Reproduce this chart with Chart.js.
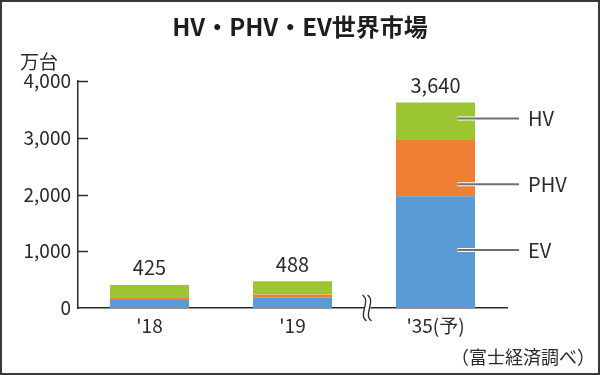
<!DOCTYPE html>
<html>
<head>
<meta charset="utf-8">
<script src="https://cdn.jsdelivr.net/npm/chart.js@4.4.0/dist/chart.umd.min.js"></script>
<style>
  html, body { margin: 0; padding: 0; background: #fff; }
  #wrap { position: relative; width: 600px; height: 375px; }
  #frame { position: absolute; left: 0; top: 0; width: 600px; height: 375px; box-sizing: border-box; border: 2px solid #3a3a3a; pointer-events: none; }
  canvas { display: block; }
</style>
</head>
<body>
<div id="wrap">
  <canvas id="chart" width="600" height="375"></canvas>
  <div id="frame"></div>
</div>
<script>
// Values (unit: 万台)
const years = ["'18", "'19", "'35(予)"];
const evValues = [140, 180, 1970];
const phvValues = [50, 60, 990];
const hvValues = [235, 248, 680];
const totals = [425, 488, 3640];
const seriesNames = ['HV', 'PHV', 'EV'];
// where the leader lines meet the 2035 bar (data units)
const labelAnchors = [3340, 2180, 1020];
const yTicks = [0, 1000, 2000, 3000, 4000];

const FONT = '"Noto Sans CJK JP", "Noto Sans", sans-serif';
const TEXT = '#2a2a2a';

// Extra drawing: title, unit, totals, leader labels, inward ticks, axis break, source
const decorations = {
    id: 'decorations',
    afterDatasetsDraw(chart) {
        const { ctx, chartArea, scales } = chart;
        const x = scales.x, y = scales.y;
        ctx.save();

        // title
        ctx.fillStyle = '#1e1e1e';
        ctx.font = 'bold 24px ' + FONT;
        ctx.textAlign = 'center';
        ctx.textBaseline = 'middle';
        ctx.fillText('HV・PHV・EV世界市場', 300, 27);

        // unit
        ctx.font = '19px ' + FONT;
        ctx.fillStyle = TEXT;
        ctx.textAlign = 'left';
        ctx.fillText('万台', 20, 62);

        // inward tick marks on the y axis
        ctx.strokeStyle = TEXT;
        ctx.lineWidth = 1.5;
        yTicks.forEach(v => {
            if (v === 0) return;
            const py = Math.round(y.getPixelForValue(v)) + 0.5;
            ctx.beginPath();
            ctx.moveTo(chartArea.left, py);
            ctx.lineTo(chartArea.left + 10, py);
            ctx.stroke();
        });

        // totals above bars
        const hvMeta = chart.getDatasetMeta(0);
        ctx.font = '20px ' + FONT;
        ctx.textAlign = 'center';
        ctx.textBaseline = 'middle';
        ctx.fillStyle = TEXT;
        totals.forEach((t, i) => {
            const el = hvMeta.data[i];
            ctx.fillText(t.toLocaleString('en-US'), el.x, y.getPixelForValue(t) - 16);
        });

        // leader lines for the 2035 bar
        const bar = hvMeta.data[2];
        const x0 = bar.x + 22;
        const x1 = chartArea.right + 12;
        seriesNames.forEach((name, i) => {
            const py = y.getPixelForValue(labelAnchors[i]);
            ctx.strokeStyle = '#fff';
            ctx.lineWidth = 4;
            ctx.beginPath();
            ctx.moveTo(x0, py);
            ctx.lineTo(x1, py);
            ctx.stroke();
            ctx.strokeStyle = '#707070';
            ctx.lineWidth = 2;
            ctx.beginPath();
            ctx.moveTo(x0, py);
            ctx.lineTo(x1, py);
            ctx.stroke();
            ctx.fillStyle = TEXT;
            ctx.textAlign = 'left';
            ctx.font = '20px ' + FONT;
            ctx.fillText(name, x1 + 9, py);
        });

        // axis break between '19 and '35
        const bx = (x.getPixelForValue(1) + x.getPixelForValue(2)) / 2 + 2;
        const by = chartArea.bottom;
        const squiggle = (dx) => {
            ctx.beginPath();
            ctx.moveTo(bx + dx - 2, by - 13);
            ctx.bezierCurveTo(bx + dx + 7, by - 7, bx + dx - 7, by + 7, bx + dx + 2, by + 13);
            ctx.stroke();
        };
        ctx.strokeStyle = '#fff';
        ctx.lineWidth = 6;
        squiggle(1.5);
        ctx.strokeStyle = TEXT;
        ctx.lineWidth = 1.3;
        squiggle(-1.5);
        squiggle(3.5);

        // source
        ctx.fillStyle = TEXT;
        ctx.font = '18px ' + FONT;
        ctx.textAlign = 'right';
        ctx.textBaseline = 'middle';
        ctx.fillText('（富士経済調べ）', 595, 357);

        ctx.restore();
    }
};

const barStyle = {
    barPercentage: 0.553,
    categoryPercentage: 1,
    borderSkipped: false
};

new Chart(document.getElementById('chart'), {
    type: 'bar',
    data: {
        labels: years,
        datasets: [
            { label: 'HV', data: hvValues, backgroundColor: '#9bc531', borderColor: '#fff', borderWidth: { top: 1 }, order: 3, ...barStyle },
            { label: 'PHV', data: phvValues, backgroundColor: '#ef7f32', borderWidth: 0, order: 2, ...barStyle },
            { label: 'EV', data: evValues, backgroundColor: '#5b9bd5', borderWidth: 0, order: 1, ...barStyle }
        ].reverse()
    },
    options: {
        responsive: false,
        animation: false,
        layout: { padding: { left: 0, top: 81, right: 93, bottom: 27 } },
        plugins: {
            legend: { display: false },
            tooltip: { enabled: false }
        },
        scales: {
            x: {
                stacked: true,
                grid: { display: false, drawTicks: false },
                border: { display: true, color: TEXT, width: 1.5 },
                ticks: { color: TEXT, font: { size: 19, family: FONT }, padding: 6 },
                afterFit: s => { s.height = 40; }
            },
            y: {
                stacked: true,
                min: 0,
                max: 4000,
                grid: { display: false, drawTicks: false },
                border: { display: true, color: TEXT, width: 1.5 },
                ticks: {
                    stepSize: 1000,
                    color: TEXT,
                    font: { size: 19, family: FONT },
                    padding: 7,
                    callback: v => v.toLocaleString('en-US')
                },
                afterFit: s => { s.width = 78; }
            }
        }
    },
    plugins: [decorations]
});
</script>
</body>
</html>
